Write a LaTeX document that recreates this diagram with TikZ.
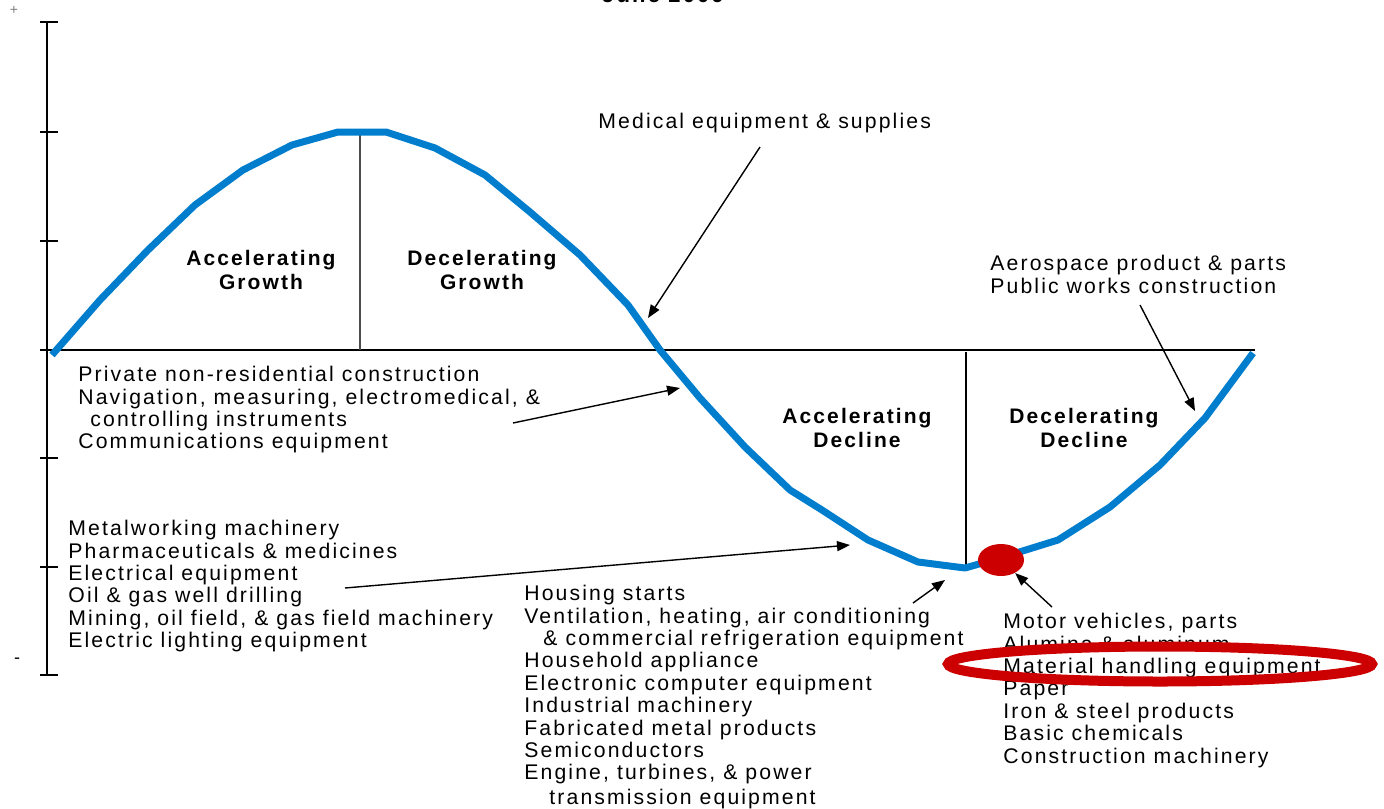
\documentclass[tikz,border=0pt]{standalone}
\usepackage{fontspec}
\setmainfont{Liberation Sans}[LetterSpace=10]
\usetikzlibrary{arrows.meta,shapes.geometric}
\definecolor{cycleblue}{RGB}{0,125,205}
\definecolor{markred}{RGB}{204,0,0}

\tikzset{
  listtext/.style={anchor=north west, inner sep=0pt, align=left, font=\fontsize{10.6}{11.2}\selectfont},
  phase/.style={align=center, inner sep=0pt, font=\bfseries\fontsize{10.5}{12}\selectfont},
  pointer/.style={draw=black, line width=0.7pt, -{Triangle[length=6.5pt,width=5pt]}},
}

\begin{document}
\begin{tikzpicture}[x=0.5pt,y=-0.5pt]
  \useasboundingbox (0,0) rectangle (1384,808);
  \clip (0,0) rectangle (1384,808);

  % Title, cut by the top edge
  \node[anchor=base, inner sep=0pt, font=\bfseries\fontsize{11}{13}\selectfont] (title) at (663,3) {June 2009};

  % Draw the axis with its ticks
  \draw[line width=0.8pt] (47,22) -- (47,675);
  \foreach \y in {22,132,241,458,567,675}
    \draw[line width=0.8pt] (40,\y) -- (58,\y);
  \draw[line width=0.6pt] (40,350) -- (1255,350);
  \node[gray, font=\fontsize{7}{8}\selectfont] (plus) at (14,10) {+};
  \node[font=\fontsize{9}{10}\selectfont] (minus) at (17,661) {-};

  % Phase dividers
  \draw[gray!60!black, line width=0.6pt] (360,132) -- (360,350);
  \draw[line width=1pt] (966,352) -- (966,568);

  % The cycle
  \draw[cycleblue, line width=3.5pt, line join=round] plot coordinates {
    (52,355) (100,300) (148,250) (195,205) (243,170) (292,145) (338,132)
    (386,132) (435,148) (485,175) (530,212) (580,255) (628,305) (660,350)
    (700,398) (745,447) (790,490) (822,510) (868,540) (918,562) (965,568)
    (1000,558) (1058,540) (1110,507) (1160,465) (1205,418) (1253,353)};

  % Phase names
  \node[phase] (accgrowth) at (261,270) {Accelerating\\Growth};
  \node[phase] (decgrowth) at (482,270) {Decelerating\\Growth};
  \node[phase] (accdecline) at (857,428) {Accelerating\\Decline};
  \node[phase] (decdecline) at (1084,428) {Decelerating\\Decline};

  % Industry lists
  \node[listtext] (medical) at (598,113) {Medical equipment \& supplies};
  \node[listtext] (aerospace) at (990,255) {Aerospace product \& parts\\
    Public works construction};
  \node[listtext] (privnonres) at (78,366) {Private non-residential construction\\
    Navigation, measuring, electromedical, \&\\
    \hspace*{6pt}controlling instruments\\
    Communications equipment};
  \node[listtext] (metalwork) at (68,520) {Metalworking machinery\\
    Pharmaceuticals \& medicines\\
    Electrical equipment\\
    Oil \& gas well drilling\\
    Mining, oil field, \& gas field machinery\\
    Electric lighting equipment};
  \node[listtext] (housing) at (524,585) {Housing starts\\
    Ventilation, heating, air conditioning\\
    \hspace*{9.5pt}\& commercial refrigeration equipment\\
    Household appliance\\
    Electronic computer equipment\\
    Industrial machinery\\
    Fabricated metal products\\
    Semiconductors\\
    Engine, turbines, \& power\\[1.3pt]
    \hspace*{12.5pt}transmission equipment};
  \node[listtext] (motor) at (1003,613) {Motor vehicles, parts\\
    Alumina \& aluminum\\
    Material handling equipment\\
    Paper\\
    Iron \& steel products\\
    Basic chemicals\\
    Construction machinery};

  % Red marks
  \node[ellipse, fill=markred, inner sep=0pt, minimum width=23pt, minimum height=16pt] (dot) at (1001,560) {};
  \node[ellipse, draw=markred, line width=5pt, inner sep=0pt, minimum width=212pt, minimum height=17.5pt] (ring) at (1160,664) {};

  % Pointers to the curve
  \coordinate (medtail) at (760,147);
  \coordinate (medhead) at (648,318);
  \coordinate (aerotail) at (1140,305);
  \coordinate (aerohead) at (1195,411);
  \coordinate (privtail) at (513,423);
  \coordinate (privhead) at (680,388);
  \coordinate (metaltail) at (345,588);
  \coordinate (metalhead) at (850,545);
  \coordinate (housetail) at (913,603);
  \coordinate (househead) at (945,580);
  \coordinate (motortail) at (1052,607);
  \draw[pointer] (medtail) -- (medhead);
  \draw[pointer] (aerotail) -- (aerohead);
  \draw[pointer] (privtail) -- (privhead);
  \draw[pointer] (metaltail) -- (metalhead);
  \draw[pointer] (housetail) -- (househead);
  \draw[pointer] (motortail) -- (dot);
\end{tikzpicture}
\end{document}
